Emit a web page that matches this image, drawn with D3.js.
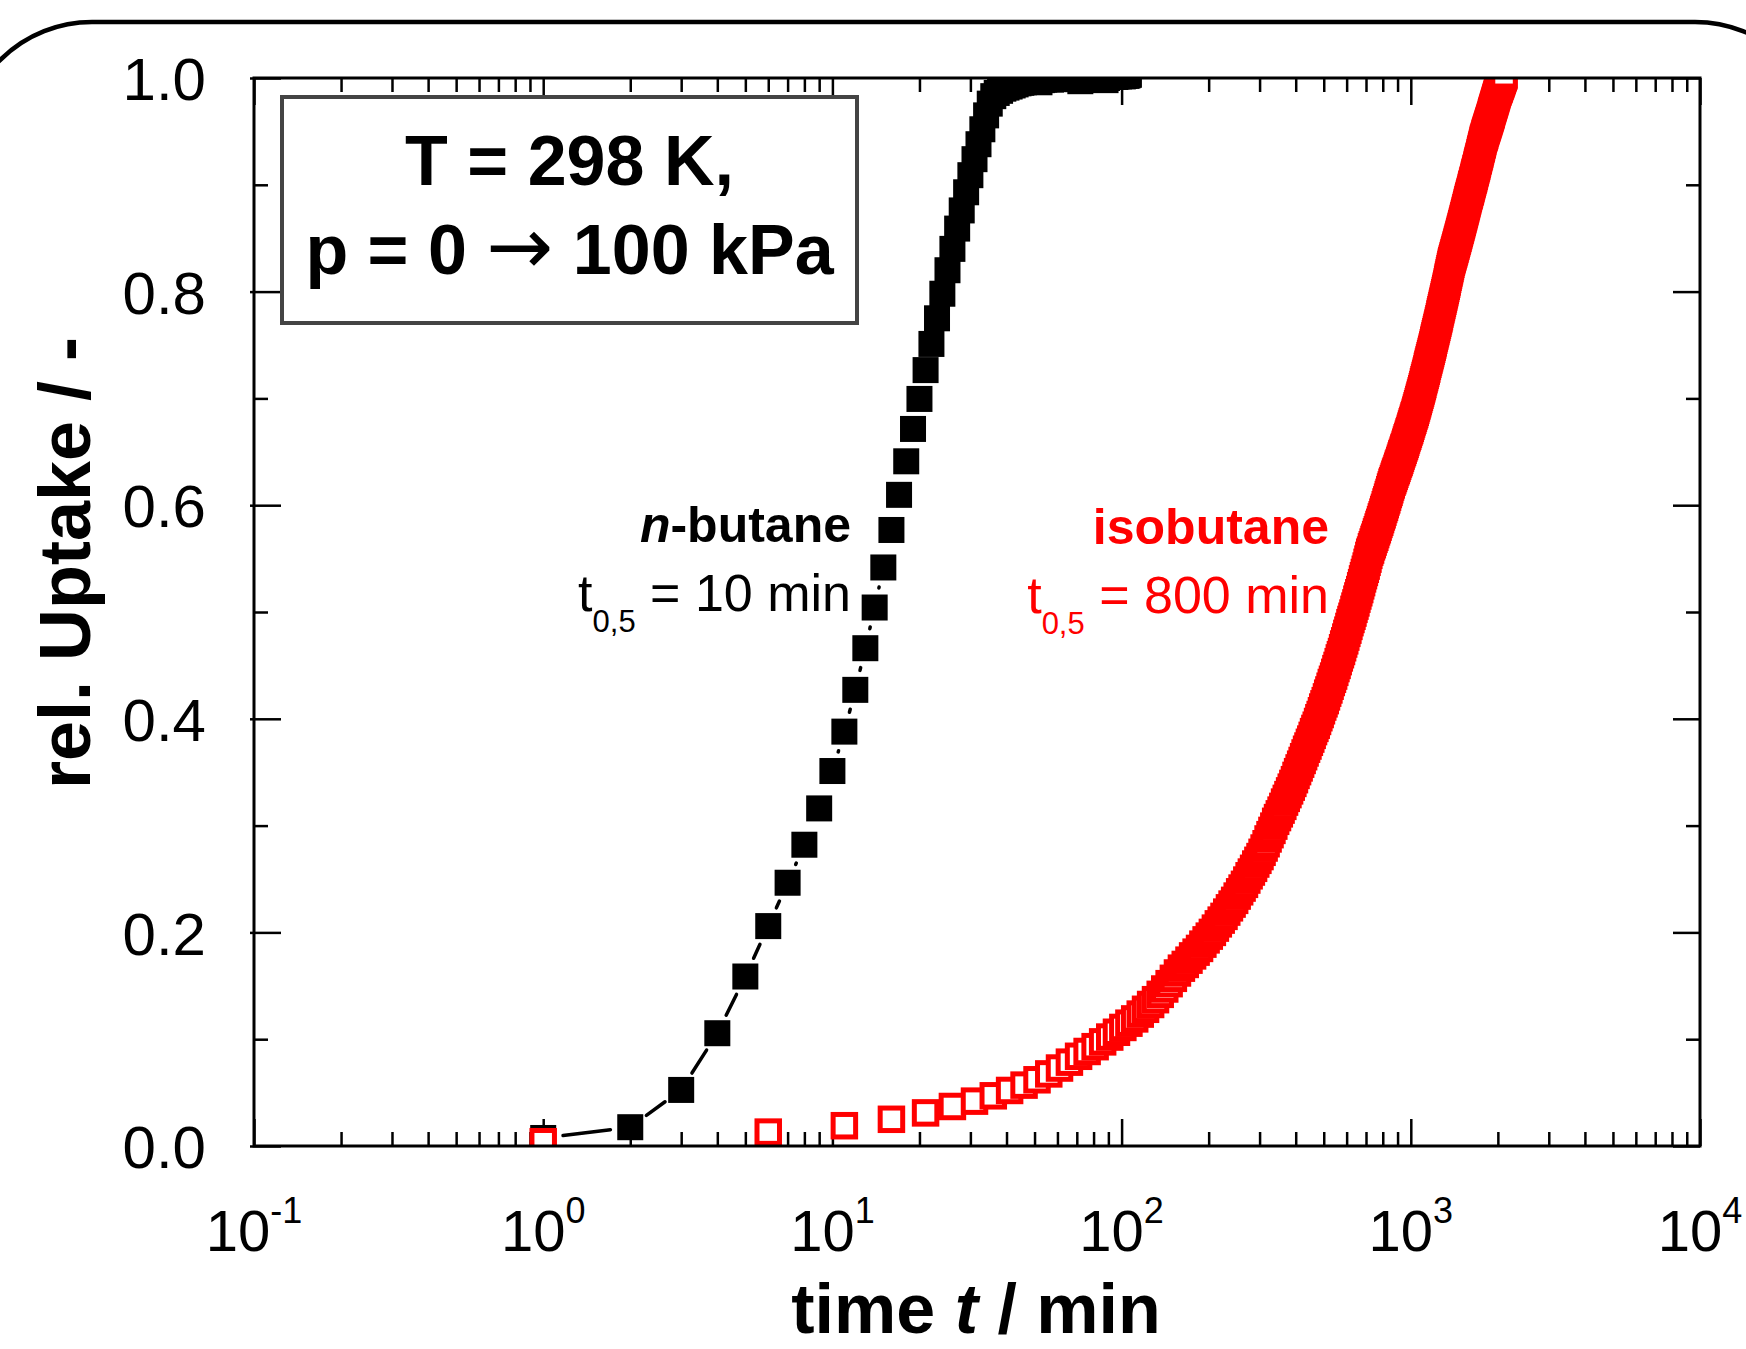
<!DOCTYPE html>
<html><head><meta charset="utf-8">
<script src="https://cdn.jsdelivr.net/npm/d3@7"></script>
<style>
html,body{margin:0;padding:0;background:#fff;}
svg{display:block;}
text{font-family:"Liberation Sans",Arial,Helvetica,sans-serif;}
</style></head><body>
<svg id="chart" width="1746" height="1349"></svg>
<script>
// ---------------- data ----------------
const xTickValues = [0.1, 1, 10, 100, 1000, 10000];
const xTickExponents = ["-1", "0", "1", "2", "3", "4"];
const yTickValues = [0, 0.2, 0.4, 0.6, 0.8, 1.0];
const yMinorTickValues = [0.1, 0.3, 0.5, 0.7, 0.9];

// n-butane (min, rel. uptake)
const nButaneTime = [1,2,3,4,5,6,7,8,9,10,
11,12,13,14,15,16,17,18,19,20,
21,22,23,24,25,26,27,28,29,30,
31,32,33,34,35,36,37,38,39,40,
41,42,43,44,45,46,47,48,49,50,
51,52,53,54,55,56,57,58,59,60,
61,62,63,64,65,66,67,68,69,70,
71,72,73,74,75,76,77,78,79,80,
81,82,83,84,85,86,87,88,89,90,
91,92,93,94,95,96,97,98,99,100,
101,102,103,104,105,106];
const nButaneUptake = [0.0075,0.0176,0.0525,0.1056,0.1587,0.2059,0.2465,0.2821,0.3161,0.3511,
0.388,0.4271,0.4661,0.5042,0.5417,0.5768,0.6097,0.6411,0.6714,0.6995,
0.7265,0.751,0.775,0.798,0.820,0.840,0.859,0.876,0.893,0.909,
0.924,0.938,0.952,0.965,0.976,0.983,0.986,0.988,0.990,0.991,
0.992,0.993,0.994,0.995,0.9955,0.996,0.9965,0.997,0.997,0.9975,
0.998,0.996,0.998,0.9985,0.999,0.999,0.9985,0.999,0.9995,0.999,
0.9995,1.000,0.9995,0.999,1.000,0.9995,1.000,1.0005,0.9995,1.000,
0.999,0.997,0.999,1.000,1.0005,1.000,1.001,1.0005,1.000,1.001,
1.0005,1.001,1.000,1.0005,1.001,1.001,0.999,0.998,1.000,1.001,
1.0015,1.001,1.0015,1.002,1.001,1.0015,1.002,1.0015,1.002,1.002,
1.0015,1.002,1.0025,1.002,1.0025,1.003];

// isobutane (min, rel. uptake)
const isobutaneTime = [1,6,11,16,21,26,31,36,41,46,
51,56,61,66,71,76,81,86,91,96,
101,106,111,116,121,126,131,136,141,146,
151,156,161,166,171,176,181,186,191,196,
201,206,211,216,221,226,231,236,241,246,
251,256,261,266,271,276,281,286,291,296,
301,306,311,316,321,326,331,336,341,346,
351,356,361,366,371,376,381,386,391,396,
401,406,411,416,421,426,431,436,441,446,
451,456,461,466,471,476,481,486,491,496,
501,506,511,516,521,526,531,536,541,546,
551,556,561,566,571,576,581,586,591,596,
601,606,611,616,621,626,631,636,641,646,
651,656,661,666,671,676,681,686,691,696,
701,706,711,716,721,726,731,736,741,746,
751,756,761,766,771,776,781,786,791,796,
801,806,811,816,821,826,831,836,841,846,
851,856,861,866,871,876,881,886,891,896,
901,906,911,916,921,926,931,936,941,946,
951,956,961,966,971,976,981,986,991,996,
1001,1006,1011,1016,1021,1026,1031,1036,1041,1046,
1051,1056,1061,1066,1071,1076,1081,1086,1091,1096,
1101,1106,1111,1116,1121,1126,1131,1136,1141,1146,
1151,1156,1161,1166,1171,1176,1181,1186,1191,1196,
1201,1206,1211,1216,1221,1226,1231,1236,1241,1246,
1251,1256,1261,1266,1271,1276,1281,1286,1291,1296,
1301,1306,1311,1316,1321,1326,1331,1336,1341,1346,
1351,1356,1361,1366,1371,1376,1381,1386,1391,1396,
1401,1406,1411,1416,1421,1426,1431,1436,1441,1446,
1451,1456,1461,1466,1471,1476,1481,1486,1491,1496,
1501,1506,1511,1516,1521,1526,1531,1536,1541,1546,
1551,1556,1561,1566,1571,1576,1581,1586,1591,1596,
1601,1606,1611,1616,1621,1626,1631,1636,1641,1646,
1651,1656,1661,1666,1671,1676,1681,1686,1691,1696,
1701,1706,1711,1716,1721,1726,1731,1736,1741,1746,
1751,1756,1761,1766,1771,1776,1781,1786,1791,1796,
1801,1806,1811,1816,1821,1826,1831,1836,1841,1846,
1851,1856,1861,1866,1871,1876,1881,1886,1891,1896,
1901,1906,1911,1916,1921,1926,1931,1936,1941,1946,
1951,1956,1961,1966,1971,1976,1981,1986,1991,1996,
2001,2006,2011,2016,2021,2026,2031,2036,2041,2046,
2051,2056,2061,2066,2071,2076,2081,2086,2091,2096,
2101];
const isobutaneUptake = [0.004,0.013,0.019,0.025,0.031,0.037,0.042,0.047,0.052,0.057,
0.062,0.0675,0.073,0.0785,0.084,0.0885,0.093,0.0975,0.102,0.1065,
0.111,0.115,0.119,0.1235,0.128,0.1325,0.137,0.142,0.147,0.152,
0.157,0.162,0.1665,0.170,0.174,0.178,0.1815,0.185,0.189,0.193,
0.1965,0.200,0.204,0.208,0.2115,0.215,0.219,0.223,0.2265,0.230,
0.234,0.238,0.2415,0.245,0.249,0.253,0.2565,0.260,0.264,0.2675,
0.271,0.275,0.279,0.283,0.2875,0.2915,0.2955,0.2995,0.304,0.3075,
0.311,0.3145,0.318,0.322,0.3255,0.329,0.3325,0.336,0.3395,0.343,
0.347,0.3505,0.354,0.3575,0.361,0.3645,0.368,0.3715,0.3745,0.378,
0.381,0.3845,0.388,0.391,0.394,0.3975,0.401,0.404,0.4075,0.411,
0.414,0.417,0.4205,0.424,0.427,0.4305,0.434,0.437,0.440,0.4435,
0.447,0.450,0.4535,0.457,0.460,0.463,0.4665,0.470,0.473,0.4765,
0.480,0.483,0.4865,0.490,0.493,0.496,0.499,0.5025,0.5055,0.5085,
0.512,0.515,0.518,0.521,0.5245,0.5275,0.531,0.534,0.537,0.540,
0.543,0.5465,0.5495,0.553,0.556,0.558,0.561,0.563,0.5655,0.568,
0.570,0.5725,0.575,0.577,0.5795,0.582,0.584,0.5865,0.589,0.591,
0.5935,0.596,0.598,0.6005,0.603,0.605,0.6075,0.610,0.612,0.6145,
0.617,0.619,0.6215,0.623,0.625,0.627,0.629,0.631,0.6325,0.6345,
0.6365,0.6385,0.640,0.642,0.644,0.646,0.648,0.6495,0.6515,0.6535,
0.655,0.657,0.659,0.661,0.663,0.6645,0.6665,0.6685,0.670,0.672,
0.674,0.676,0.678,0.6795,0.6815,0.6835,0.685,0.687,0.689,0.691,
0.693,0.695,0.697,0.699,0.701,0.703,0.705,0.707,0.709,0.711,
0.713,0.7155,0.7175,0.7195,0.7215,0.7235,0.7255,0.7275,0.730,0.732,
0.734,0.736,0.738,0.740,0.742,0.744,0.746,0.748,0.750,0.752,
0.7545,0.7565,0.7585,0.7605,0.7625,0.7645,0.7665,0.7685,0.7705,0.7725,
0.7745,0.7765,0.779,0.781,0.783,0.785,0.787,0.789,0.791,0.793,
0.795,0.797,0.799,0.801,0.803,0.805,0.807,0.809,0.8115,0.8135,
0.8155,0.8175,0.8195,0.8215,0.8235,0.8255,0.8275,0.829,0.8305,0.832,
0.8335,0.835,0.8365,0.838,0.8395,0.841,0.8425,0.844,0.8455,0.847,
0.8485,0.850,0.8515,0.853,0.8545,0.856,0.8575,0.859,0.8605,0.862,
0.8635,0.865,0.8665,0.868,0.8695,0.871,0.8725,0.874,0.8755,0.877,
0.8785,0.880,0.8815,0.883,0.8845,0.886,0.8875,0.889,0.890,0.8915,
0.893,0.894,0.8955,0.897,0.8985,0.900,0.901,0.9025,0.904,0.905,
0.9065,0.908,0.9095,0.911,0.912,0.9135,0.915,0.916,0.9175,0.919,
0.9205,0.922,0.923,0.9245,0.926,0.927,0.9285,0.930,0.9315,0.933,
0.934,0.9355,0.937,0.938,0.9395,0.941,0.9425,0.9435,0.9445,0.9455,
0.9465,0.948,0.949,0.950,0.951,0.952,0.953,0.954,0.955,0.956,
0.957,0.958,0.959,0.960,0.961,0.962,0.963,0.964,0.965,0.966,
0.9675,0.9685,0.9695,0.9705,0.9715,0.9725,0.9735,0.9745,0.9755,0.9765,
0.9775,0.9785,0.9795,0.9805,0.9815,0.9825,0.9835,0.9845,0.9855,0.9865,
0.987,0.988,0.9885,0.9895,0.990,0.991,0.992,0.9925,0.9935,0.994,
0.995,0.996,0.9965,0.9975,0.998,0.999,1.000,1.0005,1.0015,1.002,
1.003];

// ---------------- drawing ----------------
const svg = d3.select("#chart");
const plot = {left: 254, right: 1700, top: 78, bottom: 1146};
const x = d3.scaleLog().domain([0.1, 10000]).range([plot.left, plot.right]);
const y = d3.scaleLinear().domain([0, 1]).range([plot.bottom, plot.top]);
const FONT = '"Liberation Sans", Arial, Helvetica, sans-serif';

svg.append("rect").attr("width", 1746).attr("height", 1349).attr("fill", "#fff");

// outer rounded frame
svg.append("rect").attr("x", -38).attr("y", 22).attr("width", 1863).attr("height", 1500)
  .attr("rx", 130).attr("ry", 130).attr("fill", "none").attr("stroke", "#000").attr("stroke-width", 4.5);

// axis ticks (beneath data)
const majorX = xTickValues;
const minorX = x.ticks().filter(v => !majorX.some(m => Math.abs(m - v) / m < 1e-6));
function tickGroup(axis, tx, ty) {
  const g = svg.append("g").attr("transform", `translate(${tx},${ty})`).call(axis);
  g.select(".domain").remove();
  g.selectAll(".tick line").attr("stroke", "#000").attr("stroke-width", 2.5);
  return g;
}
tickGroup(d3.axisBottom(x).tickValues(majorX).tickSizeInner(-27).tickSizeOuter(0).tickFormat(""), 0, plot.bottom);
tickGroup(d3.axisBottom(x).tickValues(minorX).tickSizeInner(-14).tickSizeOuter(0).tickFormat(""), 0, plot.bottom);
tickGroup(d3.axisTop(x).tickValues(majorX).tickSizeInner(-27).tickSizeOuter(0).tickFormat(""), 0, plot.top);
tickGroup(d3.axisTop(x).tickValues(minorX).tickSizeInner(-14).tickSizeOuter(0).tickFormat(""), 0, plot.top);
const yl = tickGroup(d3.axisLeft(y).tickValues(yTickValues).tickSizeInner(-27).tickSizeOuter(0)
  .tickPadding(48).tickFormat(d3.format(".1f")), plot.left, 0);
yl.selectAll(".tick line").attr("x1", -4);
yl.selectAll(".tick text").attr("font-size", 60).attr("font-family", FONT).attr("fill", "#000").attr("dy", "0.36em");
tickGroup(d3.axisLeft(y).tickValues(yMinorTickValues).tickSizeInner(-14).tickSizeOuter(0).tickFormat(""), plot.left, 0);
tickGroup(d3.axisRight(y).tickValues(yTickValues).tickSizeInner(-27).tickSizeOuter(0).tickFormat(""), plot.right, 0);
tickGroup(d3.axisRight(y).tickValues(yMinorTickValues).tickSizeInner(-14).tickSizeOuter(0).tickFormat(""), plot.right, 0);

// x tick labels with superscript exponents
svg.append("g").selectAll("text").data(xTickValues).join("text")
  .attr("x", d => x(d)).attr("y", 1251).attr("text-anchor", "middle")
  .attr("font-size", 58).attr("fill", "#000")
  .each(function(d, i) {
    const t = d3.select(this);
    t.append("tspan").text("10");
    t.append("tspan").attr("font-size", 36).attr("dy", -28).text(xTickExponents[i]);
  });

// clip
svg.append("clipPath").attr("id", "plotclip").append("rect")
  .attr("x", plot.left).attr("y", plot.top).attr("width", plot.right - plot.left).attr("height", plot.bottom - plot.top);
const data = svg.append("g").attr("clip-path", "url(#plotclip)");

// n-butane connecting line with gaps around symbols
const nb = nButaneTime.map((t, i) => ({t, v: nButaneUptake[i]}));
const gap = 20;
const segs = [];
for (let i = 0; i < nb.length - 1; i++) {
  const x1 = x(nb[i].t), y1 = y(nb[i].v), x2 = x(nb[i + 1].t), y2 = y(nb[i + 1].v);
  const dx = x2 - x1, dy = y2 - y1, L = Math.hypot(dx, dy);
  if (L > 2 * gap) {
    const ux = dx / L, uy = dy / L;
    segs.push({x1: x1 + ux * gap, y1: y1 + uy * gap, x2: x2 - ux * gap, y2: y2 - uy * gap});
  }
}
data.append("g").selectAll("line").data(segs).join("line")
  .attr("x1", d => d.x1).attr("y1", d => d.y1).attr("x2", d => d.x2).attr("y2", d => d.y2)
  .attr("stroke", "#000").attr("stroke-width", 3.5).attr("stroke-linecap", "round");

// n-butane filled squares
const S = 26;
data.append("g").selectAll("rect").data(nb).join("rect")
  .attr("x", d => x(d.t) - S / 2).attr("y", d => y(d.v) - S / 2)
  .attr("width", S).attr("height", S).attr("fill", "#000");

// isobutane open squares (white fill, red outline)
const ib = isobutaneTime.map((t, i) => ({t, v: isobutaneUptake[i]})).filter(d => d.v !== undefined);
const s2 = 22.5;
data.append("g").selectAll("rect").data(ib).join("rect")
  .attr("x", d => x(d.t) - s2 / 2).attr("y", d => y(d.v) - s2 / 2)
  .attr("width", s2).attr("height", s2).attr("fill", "#fff")
  .attr("stroke", "#ff0000").attr("stroke-width", 5);

// plot frame
svg.append("rect").attr("x", plot.left).attr("y", plot.top)
  .attr("width", plot.right - plot.left).attr("height", plot.bottom - plot.top)
  .attr("fill", "none").attr("stroke", "#000").attr("stroke-width", 3);

// axis titles
const xt = svg.append("text").attr("x", 976).attr("y", 1333).attr("text-anchor", "middle")
  .attr("font-size", 70).attr("font-weight", "bold").attr("fill", "#000");
xt.append("tspan").text("time ");
xt.append("tspan").attr("font-style", "italic").text("t");
xt.append("tspan").text(" / min");

svg.append("text").attr("transform", "translate(90,563) rotate(-90)").attr("text-anchor", "middle")
  .attr("font-size", 72).attr("font-weight", "bold").attr("fill", "#000").text("rel. Uptake / -");

// condition box
svg.append("rect").attr("x", 282).attr("y", 97).attr("width", 575).attr("height", 226)
  .attr("fill", "#fff").attr("stroke", "#444").attr("stroke-width", 4);
svg.append("text").attr("x", 569.5).attr("y", 185).attr("text-anchor", "middle")
  .attr("font-size", 70).attr("font-weight", "bold").attr("fill", "#000").text("T = 298 K,");
const pt = svg.append("text").attr("x", 569.5).attr("y", 274).attr("text-anchor", "middle")
  .attr("font-size", 70).attr("font-weight", "bold").attr("fill", "#000");
pt.append("tspan").text("p = 0 ");
pt.append("tspan").attr("font-weight", "normal").attr("font-family", '"DejaVu Sans", sans-serif')
  .attr("font-size", 80).text("\u2192");
pt.append("tspan").text(" 100 kPa");

// annotations
function label(xe, yb, color, name, italicPrefix, tValue) {
  const a = svg.append("text").attr("x", xe).attr("y", yb).attr("text-anchor", "end")
    .attr("font-size", 50).attr("font-weight", "bold").attr("fill", color);
  if (italicPrefix) a.append("tspan").attr("font-style", "italic").text(italicPrefix);
  a.append("tspan").text(name);
  const b = svg.append("text").attr("x", xe).attr("y", yb + 69).attr("text-anchor", "end")
    .attr("font-size", 52).attr("fill", color);
  b.append("tspan").text("t");
  b.append("tspan").attr("font-size", 31).attr("dy", 21).text("0,5");
  b.append("tspan").attr("dy", -21).text(" = " + tValue + " min");
}
label(851, 542, "#000", "-butane", "n", "10");
label(1329, 544, "#ff0000", "isobutane", null, "800");
</script>
</body></html>
